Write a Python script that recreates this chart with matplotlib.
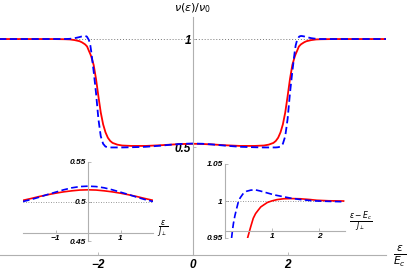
import numpy as np
import matplotlib.pyplot as plt

# main curves
x_main = [-4.1, -3.5, -3.0, -2.7, -2.6, -2.5, -2.4, -2.35, -2.3, -2.28, -2.25, -2.24, -2.2, -2.17,
          -2.15, -2.1, -2.05, -2.0, -1.95, -1.9, -1.85, -1.8, -1.75, -1.7, -1.6, -1.5, -1.3, -1.0,
          -0.7, -0.4, -0.2, 0.0,
          0.2, 0.4, 0.7, 1.0, 1.3, 1.5, 1.6, 1.7, 1.75, 1.8, 1.85, 1.9, 1.95, 2.0, 2.05, 2.1,
          2.15, 2.17, 2.2, 2.24, 2.25, 2.28, 2.3, 2.35, 2.4, 2.5, 2.6, 2.7, 3.0, 3.5, 4.1]
red_main = [1.0, 1.0, 1.0, 0.999, 0.998, 0.995, 0.99, 0.985, 0.978, 0.975, 0.968, 0.966, 0.945, 0.93,
            0.918, 0.88, 0.815, 0.735, 0.66, 0.605, 0.568, 0.543, 0.528, 0.519, 0.511, 0.507, 0.505, 0.505,
            0.508, 0.512, 0.514, 0.515,
            0.514, 0.512, 0.508, 0.505, 0.505, 0.507, 0.511, 0.519, 0.528, 0.543, 0.568, 0.605, 0.66, 0.735,
            0.815, 0.88, 0.918, 0.93, 0.945, 0.966, 0.968, 0.975, 0.978, 0.985, 0.99, 0.995, 0.998, 0.999,
            1.0, 1.0, 1.0]
blue_main = [1.0, 1.0, 1.0, 1.0, 1.001, 1.004, 1.009, 1.012, 1.014, 1.014, 1.012, 1.01, 0.995, 0.97,
             0.94, 0.85, 0.75, 0.63, 0.55, 0.515, 0.502, 0.499, 0.498, 0.498, 0.498, 0.498, 0.499, 0.501,
             0.506, 0.512, 0.515, 0.516,
             0.515, 0.512, 0.506, 0.501, 0.499, 0.498, 0.498, 0.498, 0.498, 0.499, 0.502, 0.515, 0.55, 0.63,
             0.75, 0.85, 0.94, 0.97, 0.995, 1.01, 1.012, 1.014, 1.014, 1.012, 1.009, 1.004, 1.001, 1.0,
             1.0, 1.0, 1.0]

# left inset (around eps = 0)
x_left = [-2.0, -1.75, -1.5, -1.25, -1.0, -0.75, -0.5, -0.25, 0.0, 0.25, 0.5, 0.75, 1.0, 1.25, 1.5, 1.75, 2.0]
red_left = [0.5015, 0.5038, 0.5063, 0.5085, 0.5105, 0.5122, 0.5135, 0.5145, 0.5148,
            0.5145, 0.5135, 0.5122, 0.5105, 0.5085, 0.5063, 0.5038, 0.5015]
blue_left = [0.5, 0.5025, 0.5055, 0.5088, 0.5118, 0.5148, 0.5173, 0.5189, 0.5194,
             0.5189, 0.5173, 0.5148, 0.5118, 0.5088, 0.5055, 0.5025, 0.5]

# right inset (around eps = E_c)
x_rb = [0.14, 0.16, 0.18, 0.21, 0.24, 0.28, 0.32, 0.38, 0.46, 0.55, 0.65, 0.75, 0.88, 1.05,
        1.24, 1.4, 1.6, 1.8, 1.95, 2.2, 2.52]
blue_right = [0.95, 0.961, 0.97, 0.98, 0.988, 0.998, 1.004, 1.0095, 1.0132, 1.0147, 1.015, 1.0135,
              1.0112, 1.0082, 1.0058, 1.0038, 1.002, 1.0007, 1.0, 0.9995, 0.999]
x_rr = [0.48, 0.51, 0.55, 0.6, 0.65, 0.71, 0.76, 0.82, 0.9, 0.99, 1.1, 1.24, 1.4, 1.6, 1.8,
        1.95, 2.2, 2.52]
red_right = [0.95, 0.957, 0.966, 0.9766, 0.983, 0.988, 0.992, 0.9946, 0.998, 1.0, 1.0018, 1.003,
             1.0033, 1.003, 1.002, 1.001, 1.0003, 1.0]

W, H = 409, 272
gray = '#b0b0b0'
tick_font = dict(family='Liberation Sans', weight='bold', style='italic')

fig = plt.figure(figsize=(W / 100, H / 100), dpi=100)


def setup(ax, x0, y0, xt, xl, yt, yl, fs):
    ax.patch.set_alpha(0)
    for s in ['top', 'right']:
        ax.spines[s].set_visible(False)
    ax.spines['left'].set_position(('data', x0))
    ax.spines['bottom'].set_position(('data', y0))
    for s in ['left', 'bottom']:
        ax.spines[s].set_color(gray)
        ax.spines[s].set_linewidth(0.8)
    ax.set_xticks(xt)
    ax.set_xticklabels(xl)
    ax.set_yticks(yt)
    ax.set_yticklabels(yl)
    ax.tick_params(direction='in', length=2, width=0.6, color=gray, pad=1.5)
    for lab in ax.get_xticklabels() + ax.get_yticklabels():
        lab.set(fontsize=fs, **tick_font)


# main axes
ax = fig.add_axes([0, 1 - 255 / H, 386 / W, 238 / H])
ax.set_xlim(-4.08, 4.08)
ax.set_ylim(0, 1.102)
setup(ax, 0, 0, [-2, 0, 2], ['\u22122', '0', '2'], [0.5, 1], ['0.5', '1'], 8.5)
ax.tick_params(axis='x', pad=3)
ax.axhline(1, color='#777777', ls=(0, (1, 2)), lw=0.7)
ax.plot(x_main, red_main, color='red', lw=1.3)
ax.plot(x_main, blue_main, color='blue', lw=1.3, ls=(0, (4, 2)))

fig.text(193 / W, 1 - 8 / H, r'$\nu(\varepsilon)/\nu_0$', ha='center', va='center', fontsize=8)
fig.text(400 / W, 1 - 256 / H, r'$\frac{\varepsilon}{E_c}$', ha='center', va='center', fontsize=11)

# left inset
a1 = fig.add_axes([23 / W, 1 - 241 / H, 130 / W, 79 / H])
a1.set_xlim(-2, 2)
a1.set_ylim(0.45, 0.55)
setup(a1, 0, 0.46, [-1, 1], ['\u22121', '1'], [0.45, 0.5, 0.55], ['0.45', '0.5', '0.55'], 6)
a1.axhline(0.5, color='#777777', ls=(0, (1, 2)), lw=0.6)
a1.plot(x_left, red_left, color='red', lw=1.2)
a1.plot(x_left, blue_left, color='blue', lw=1.2, ls=(0, (4, 2)))
fig.text(163 / W, 1 - 229 / H, r'$\frac{\varepsilon}{J_\perp}$', ha='center', va='center', fontsize=8)

# right inset
a2 = fig.add_axes([225 / W, 1 - 238 / H, 120 / W, 74 / H])
a2.set_xlim(0, 2.55)
a2.set_ylim(0.95, 1.05)
setup(a2, 0, 0.96, [1, 2], ['1', '2'], [0.95, 1, 1.05], ['0.95', '1', '1.05'], 6)
a2.axhline(1, color='#777777', ls=(0, (1, 2)), lw=0.6)
a2.plot(x_rr, red_right, color='red', lw=1.2)
a2.plot(x_rb, blue_right, color='blue', lw=1.2, ls=(0, (4, 2)))
fig.text(361 / W, 1 - 222 / H, r'$\frac{\varepsilon - E_c}{J_\perp}$', ha='center', va='center', fontsize=8)

fig.savefig('out.png', dpi=100)
